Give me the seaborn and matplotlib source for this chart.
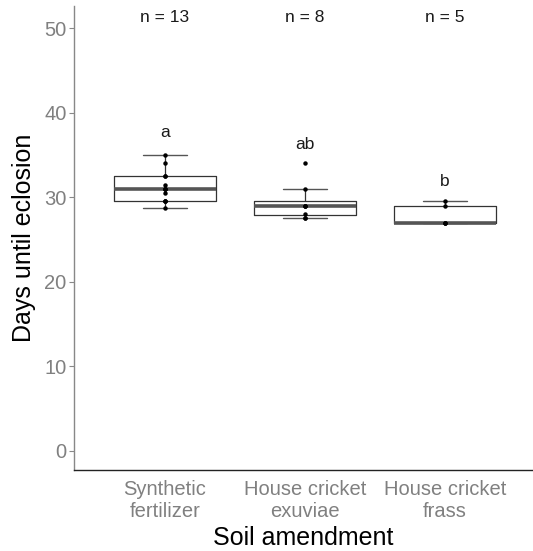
import matplotlib
matplotlib.use('Agg')
import matplotlib.pyplot as plt
import seaborn as sns
import numpy as np
import pandas as pd

sns.set_style('white')
plt.rcParams['font.family'] = ['Liberation Sans', 'DejaVu Sans']

# days until eclosion
synthetic = [28.7, 29.5, 29.5, 29.6, 30.5, 31, 31, 31, 31.5, 32.5, 32.5, 34, 35]
exuviae = [27.5, 27.6, 28, 29, 29, 29, 31, 34]
frass = [27, 27, 27, 29, 29.5]

groups = ['Synthetic\nfertilizer', 'House cricket\nexuviae', 'House cricket\nfrass']
letters = ['a', 'ab', 'b']
letter_y = [37.7, 36.2, 31.8]

df = pd.DataFrame({
    'amendment': [groups[0]] * len(synthetic) + [groups[1]] * len(exuviae) + [groups[2]] * len(frass),
    'days': synthetic + exuviae + frass,
})

fig = plt.figure(figsize=(5.33, 5.51), dpi=100)
ax = fig.add_axes([0.139, 0.147, 0.861, 0.842])

sns.boxplot(data=df, x='amendment', y='days', order=groups, ax=ax,
            width=0.73, fill=False, color='#333333', linewidth=0.9,
            showfliers=False, capwidths=0.31,
            medianprops=dict(color='#555555', linewidth=2.6),
            capprops=dict(color='#555555', linewidth=1.0),
            whiskerprops=dict(color='#333333', linewidth=0.9))
sns.stripplot(data=df, x='amendment', y='days', order=groups, ax=ax,
              jitter=False, color='black', size=3.2)

for i, g in enumerate(groups):
    n = (df['amendment'] == g).sum()
    ax.text(i, 51.2, f'n = {n}', ha='center', va='center', fontsize=12.5, color='#1a1a1a')
    ax.text(i, letter_y[i], letters[i], ha='center', va='center', fontsize=12.5, color='#1a1a1a')

ax.set_ylim(-2.25, 52.6)
ax.set_xlim(-0.65, 2.63)
ax.set_yticks([0, 10, 20, 30, 40, 50])
ax.tick_params(axis='y', length=3.5, color='#888888', labelcolor='#808080', labelsize=14.5, left=True, pad=2)
ax.tick_params(axis='x', length=0, labelcolor='#808080', labelsize=14.5, pad=7)
ax.set_xlabel('Soil amendment', fontsize=18, color='black', labelpad=4)
ax.set_ylabel('Days until eclosion', fontsize=18, color='black', labelpad=6)

sns.despine(ax=ax)
ax.spines['left'].set_color('#888888')
ax.spines['bottom'].set_color('#222222')
ax.spines['left'].set_linewidth(1.0)
ax.spines['bottom'].set_linewidth(1.0)

fig.savefig('out.png', dpi=100)
